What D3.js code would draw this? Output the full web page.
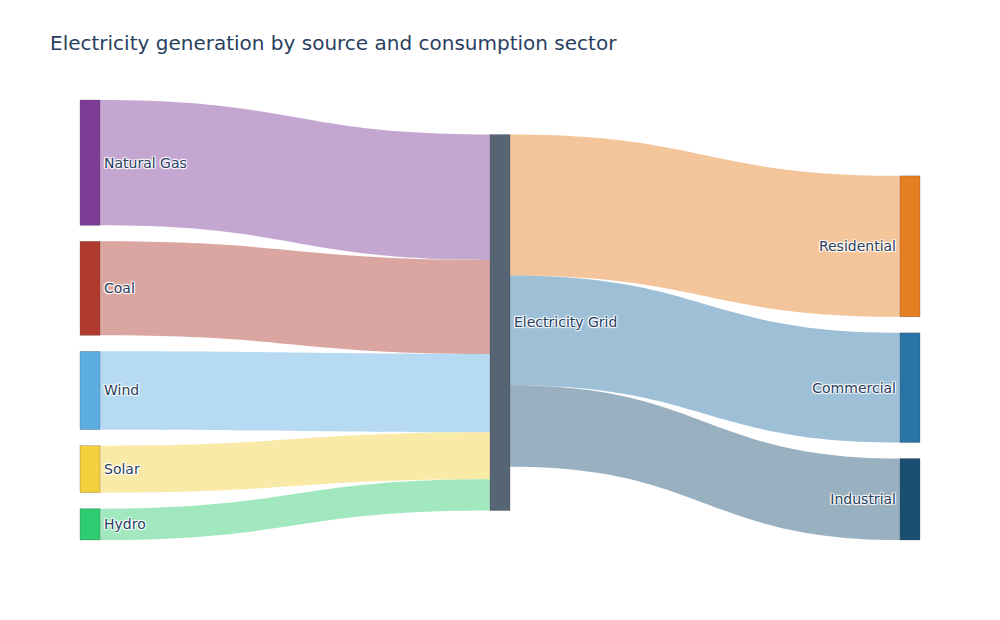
<!DOCTYPE html>
<html>
  <head>
    <meta charset="utf-8" />
    <style>
      body,
      html {
        margin: 0;
        padding: 0;
        background: #fff;
        font-family: "DejaVu Sans", Verdana, sans-serif;
      }
      .node-label {
        fill: #2a3f5f;
        text-shadow: 1px 1px 1px #fff, -1px -1px 1px #fff, 1px -1px 1px #fff,
          -1px 1px 1px #fff;
      }
    </style>
    <script src="https://d3js.org/d3.v7.min.js"></script>
    <title>sankey</title>
  </head>

  <body>
    <svg id="chart"></svg>

    <script>
      // data
      var nodeLabels = [
        "Natural Gas",
        "Coal",
        "Wind",
        "Solar",
        "Hydro",
        "Electricity Grid",
        "Residential",
        "Commercial",
        "Industrial",
      ];
      var nodeColors = [
        "#7D3C98",
        "#B03A2E",
        "#5DADE2",
        "#F4D03F",
        "#2ECC71",
        "#566573",
        "#E67E22",
        "#2874A6",
        "#1B4F72",
      ];
      var linkSource = [0, 1, 2, 3, 4, 5, 5, 5];
      var linkTarget = [5, 5, 5, 5, 5, 6, 7, 8];
      var linkValues = [40, 30, 25, 15, 10, 45, 35, 26];
      var linkColors = [
        "rgba(125,60,152,0.45)",
        "rgba(176,58,46,0.45)",
        "rgba(93,173,226,0.45)",
        "rgba(244,208,63,0.45)",
        "rgba(46,204,113,0.45)",
        "rgba(230,126,34,0.45)",
        "rgba(40,116,166,0.45)",
        "rgba(27,79,114,0.45)",
      ];
      var titleText = "Electricity generation by source and consumption sector";

      var width = 1000;
      var height = 620;
      var margin = { top: 100, right: 80, bottom: 80, left: 80 };
      var nodeWidth = 20;
      var nodePad = 16;
      // share of free space put above each column
      var columnAlign = [0, 0.54, 1];
      var innerH = height - margin.top - margin.bottom;

      var svg = d3
        .select("#chart")
        .attr("width", width)
        .attr("height", height);

      var nodes = nodeLabels.map(function (name, i) {
        return { name: name, color: nodeColors[i], inL: [], outL: [], depth: 0 };
      });
      var links = linkValues.map(function (v, i) {
        return {
          source: nodes[linkSource[i]],
          target: nodes[linkTarget[i]],
          value: v,
          color: linkColors[i],
        };
      });
      links.forEach(function (l) {
        l.source.outL.push(l);
        l.target.inL.push(l);
      });
      nodes.forEach(function (n) {
        n.value = Math.max(
          d3.sum(n.inL, (l) => l.value),
          d3.sum(n.outL, (l) => l.value)
        );
      });

      // column of each node = longest path from a source
      var changed = true;
      while (changed) {
        changed = false;
        links.forEach(function (l) {
          if (l.target.depth < l.source.depth + 1) {
            l.target.depth = l.source.depth + 1;
            changed = true;
          }
        });
      }
      var maxDepth = d3.max(nodes, (n) => n.depth);
      var columns = d3
        .groups(nodes, (n) => n.depth)
        .sort((a, b) => a[0] - b[0])
        .map((d) => d[1]);

      var xScale = d3
        .scaleLinear()
        .domain([0, maxDepth])
        .range([margin.left, width - margin.right - nodeWidth]);

      // the tightest column decides the px per unit
      var tight = d3.least(columns, function (col) {
        return (innerH - (col.length - 1) * nodePad) / d3.sum(col, (n) => n.value);
      });
      var hScale = d3
        .scaleLinear()
        .domain([0, d3.sum(tight, (n) => n.value)])
        .range([0, innerH - (tight.length - 1) * nodePad]);

      columns.forEach(function (col, c) {
        var used =
          d3.sum(col, (n) => hScale(n.value)) + (col.length - 1) * nodePad;
        var yy = margin.top + (innerH - used) * columnAlign[c];
        col.forEach(function (n) {
          n.x0 = xScale(c);
          n.x1 = n.x0 + nodeWidth;
          n.y0 = yy;
          n.y1 = yy + hScale(n.value);
          yy = n.y1 + nodePad;
        });
      });

      nodes.forEach(function (n) {
        var sy = n.y0;
        n.outL
          .sort((a, b) => a.target.y0 - b.target.y0)
          .forEach(function (l) {
            l.sy = sy;
            sy += hScale(l.value);
          });
        var ty = n.y0;
        n.inL
          .sort((a, b) => a.source.y0 - b.source.y0)
          .forEach(function (l) {
            l.ty = ty;
            ty += hScale(l.value);
          });
      });

      function linkPath(l) {
        var x0 = l.source.x1;
        var x1 = l.target.x0;
        var xi = d3.interpolateNumber(x0, x1);
        var xa = xi(0.5);
        var xb = xi(0.5);
        var w = hScale(l.value);
        var p = d3.path();
        p.moveTo(x0, l.sy);
        p.bezierCurveTo(xa, l.sy, xb, l.ty, x1, l.ty);
        p.lineTo(x1, l.ty + w);
        p.bezierCurveTo(xb, l.ty + w, xa, l.sy + w, x0, l.sy + w);
        p.closePath();
        return p.toString();
      }

      svg
        .append("g")
        .selectAll("path")
        .data(links)
        .enter()
        .append("path")
        .attr("d", linkPath)
        .style("fill", (d) => d.color)
        .style("stroke", "none");

      svg
        .append("g")
        .selectAll("rect")
        .data(nodes)
        .enter()
        .append("rect")
        .attr("x", (d) => d.x0)
        .attr("y", (d) => d.y0)
        .attr("width", (d) => d.x1 - d.x0)
        .attr("height", (d) => d.y1 - d.y0)
        .style("fill", (d) => d.color)
        .style("stroke", "rgba(68,68,68,0.5)")
        .style("stroke-width", "0.5px");

      svg
        .append("g")
        .selectAll("text")
        .data(nodes)
        .enter()
        .append("text")
        .attr("class", "node-label")
        .attr("x", (d) => (d.depth === maxDepth ? d.x0 - 4 : d.x1 + 4))
        .attr("y", (d) => (d.y0 + d.y1) / 2)
        .attr("dy", "0.35em")
        .attr("text-anchor", (d) => (d.depth === maxDepth ? "end" : "start"))
        .style("font-size", "14px")
        .text((d) => d.name);

      svg
        .append("text")
        .attr("x", 50)
        .attr("y", 50)
        .style("font-size", "20px")
        .style("fill", "#2a3f5f")
        .text(titleText);
    </script>
  </body>
</html>
